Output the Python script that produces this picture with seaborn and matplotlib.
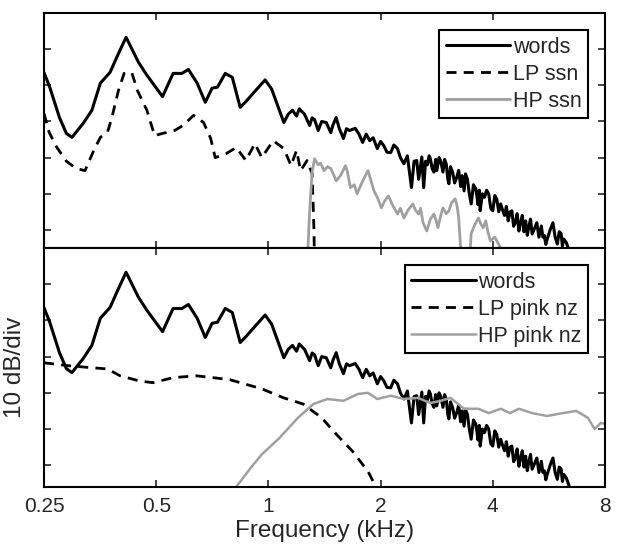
import numpy as np
import pandas as pd
import seaborn as sns
import matplotlib
matplotlib.use("Agg")
import matplotlib.pyplot as plt

# spectra (frequency in kHz, level in dB, 10 dB per division)
words_f = [0.25, 0.259, 0.275, 0.287, 0.297, 0.318, 0.336, 0.354, 0.376, 0.392,
           0.415, 0.448, 0.472, 0.52, 0.555, 0.586, 0.61, 0.644, 0.677, 0.706,
           0.73, 0.766, 0.80, 0.84, 0.87, 0.91, 0.98, 1.02, 1.10, 1.13,
           1.16, 1.19, 1.21, 1.25, 1.29, 1.31, 1.33, 1.36, 1.39, 1.43,
           1.47, 1.49, 1.52, 1.55, 1.59, 1.62, 1.65, 1.71, 1.75, 1.79,
           1.83, 1.87, 1.91, 1.96, 2.0, 2.04, 2.08, 2.13, 2.17, 2.22,
           2.26, 2.31, 2.36, 2.42, 2.46, 2.50, 2.53, 2.55, 2.58, 2.61,
           2.64, 2.67, 2.70, 2.72, 2.75, 2.78, 2.81, 2.83, 2.87, 2.90,
           2.94, 2.97, 3.0, 3.03, 3.05, 3.08, 3.12, 3.16, 3.2, 3.24,
           3.28, 3.31, 3.35, 3.38, 3.42, 3.46, 3.5, 3.55, 3.6, 3.63,
           3.65, 3.68, 3.7, 3.75, 3.8, 3.85, 3.9, 3.95, 4.0, 4.05,
           4.1, 4.15, 4.2, 4.25, 4.3, 4.35, 4.4, 4.45, 4.5, 4.55,
           4.6, 4.65, 4.7, 4.75, 4.8, 4.85, 4.9, 4.95, 5.0, 5.05,
           5.1, 5.18, 5.25, 5.32, 5.4, 5.45, 5.5, 5.55, 5.6, 5.7,
           5.8, 5.88, 5.96, 6.03, 6.1, 6.15, 6.2, 6.3, 6.4, 6.5]
words_db = [-16.5, -20.5, -28.9, -33.3, -34.4, -30.6, -26.9, -19.4, -16.4, -12.2,
            -6.7, -13.6, -17.2, -23.1, -16.7, -16.7, -15.6, -19.4, -24.7, -20.8,
            -20.5, -16.7, -17.8, -26.1, -24.5, -22.2, -18.5, -21.0, -30.3, -28.0,
            -26.9, -28.5, -26.5, -28.0, -31.1, -29.0, -29.5, -32.5, -30.0, -30.3,
            -33.1, -31.0, -28.9, -32.0, -34.7, -32.0, -32.5, -31.9, -33.5, -35.8,
            -33.5, -35.3, -34.5, -37.5, -35.5, -36.7, -38.5, -38.6, -36.5, -37.5,
            -40.0, -41.7, -39.5, -48.3, -41.0, -40.8, -46.0, -43.5, -39.8, -48.3,
            -41.0, -42.0, -39.5, -40.3, -43.0, -44.0, -40.5, -43.6, -40.0, -41.0,
            -44.0, -40.5, -41.7, -46.0, -47.2, -42.5, -44.0, -47.0, -45.5, -43.5,
            -48.0, -45.0, -49.2, -44.5, -46.0, -50.0, -52.8, -47.5, -48.6, -51.0,
            -53.0, -49.0, -54.7, -50.0, -51.0, -49.0, -50.0, -54.0, -54.7, -50.5,
            -51.5, -55.0, -52.8, -54.5, -56.0, -53.5, -57.5, -55.0, -54.7, -59.0,
            -58.0, -55.5, -60.3, -58.0, -56.0, -60.5, -57.5, -61.5, -59.0, -57.0,
            -61.1, -59.5, -58.0, -62.0, -58.9, -62.0, -61.5, -64.0, -62.5, -60.0,
            -58.0, -62.0, -63.9, -60.5, -61.0, -64.5, -62.5, -63.5, -65.5, -68.0]

lp_ssn_f = [0.25, 0.258, 0.27, 0.287, 0.305, 0.322, 0.34, 0.354, 0.37, 0.38,
            0.396, 0.41, 0.43, 0.445, 0.472, 0.495, 0.52, 0.56, 0.59, 0.63,
            0.67, 0.70, 0.72, 0.77, 0.82, 0.87, 0.92, 0.96, 1.03, 1.10,
            1.15, 1.19, 1.22, 1.27, 1.31, 1.325, 1.33]
lp_ssn_db = [-27.8, -33.0, -37.0, -41.0, -43.0, -43.6, -38.0, -34.4, -33.0, -29.0,
             -21.4, -16.7, -16.5, -21.4, -26.9, -33.9, -33.3, -32.5, -31.1, -28.3,
             -30.3, -34.7, -40.0, -38.9, -37.2, -40.8, -36.1, -40.0, -35.3, -37.5,
             -42.2, -38.0, -43.6, -40.8, -44.4, -60.0, -70.0]

hp_ssn_f = [1.27, 1.29, 1.31, 1.33, 1.36, 1.38, 1.41, 1.44, 1.47, 1.50,
            1.52, 1.56, 1.61, 1.63, 1.66, 1.70, 1.73, 1.78, 1.82, 1.85,
            1.88, 1.92, 1.96, 2.01, 2.05, 2.10, 2.15, 2.22, 2.26, 2.31,
            2.37, 2.44, 2.48, 2.53, 2.56, 2.60, 2.66, 2.72, 2.78, 2.82,
            2.85, 2.90, 2.94, 3.0, 3.05, 3.1, 3.17, 3.21, 3.24, 3.28,
            3.30, 3.45, 3.5, 3.58, 3.66, 3.72, 3.77, 3.83, 3.88, 3.94,
            4.05, 4.25]
hp_ssn_db = [-70.0, -55.0, -44.0, -40.3, -42.0, -41.5, -43.6, -42.5, -43.0, -45.0,
             -46.4, -45.0, -42.2, -44.0, -48.3, -47.5, -50.0, -47.0, -45.0, -43.6,
             -46.0, -49.2, -51.0, -53.9, -52.0, -50.6, -53.0, -55.6, -54.0, -56.7,
             -54.5, -52.8, -54.5, -55.6, -54.0, -58.0, -60.3, -57.0, -55.6, -57.5,
             -59.4, -56.0, -53.9, -55.5, -54.7, -52.5, -51.4, -53.5, -56.7, -65.0,
             -72.0, -72.0, -61.0, -58.5, -56.7, -58.5, -59.4, -57.5, -60.5, -63.0,
             -62.0, -66.0]

lp_pink_f = [0.25, 0.29, 0.33, 0.37, 0.40, 0.45, 0.49, 0.555, 0.64, 0.71,
             0.79, 0.96, 1.10, 1.24, 1.39, 1.52, 1.68, 1.85, 1.96, 2.05]
lp_pink_db = [-31.7, -32.5, -33.0, -33.4, -35.3, -36.7, -37.2, -35.8, -35.3, -35.8,
              -36.4, -38.9, -41.4, -43.1, -46.9, -51.4, -56.1, -61.7, -66.7, -70.0]

hp_pink_f = [0.78, 0.81, 0.895, 0.96, 1.07, 1.20, 1.32, 1.44, 1.59, 1.74,
             1.85, 1.96, 2.13, 2.31, 2.52, 2.72, 2.9, 3.08, 3.35, 3.66,
             3.9, 4.2, 4.45, 4.7, 5.1, 5.6, 6.0, 6.7, 7.2, 7.5,
             7.8, 8.0]
hp_pink_db = [-70.0, -66.7, -60.8, -57.0, -52.5, -46.9, -43.1, -41.7, -42.2, -40.3,
              -40.0, -41.7, -40.8, -41.7, -41.4, -42.8, -42.2, -41.4, -44.4, -44.4,
              -45.6, -44.4, -45.6, -44.4, -45.6, -46.4, -45.8, -45.0, -46.9, -50.0,
              -48.3, -48.6]

xticks = [0.25, 0.5, 1, 2, 4, 8]
xtick_labels = ["0.25", "0.5", "1", "2", "4", "8"]

sns.set_style("ticks")
plt.rcParams['font.family'] = ['Liberation Sans', 'DejaVu Sans']

fig = plt.figure(figsize=(6.21, 5.52), dpi=100)
ax1 = fig.add_axes([0.0709, 0.5507, 0.9033, 0.4257])
ax2 = fig.add_axes([0.0709, 0.1178, 0.9033, 0.4329])

gray = "#a0a0a0"
dash = (0, (3.6, 2.6))

sns.lineplot(x=words_f, y=words_db, ax=ax1, color="black", lw=2.2, sort=False,
             estimator=None, label="words")
sns.lineplot(x=lp_ssn_f, y=lp_ssn_db, ax=ax1, color="black", lw=2.0, sort=False,
             estimator=None, label="LP ssn", linestyle=dash)
sns.lineplot(x=hp_ssn_f, y=hp_ssn_db, ax=ax1, color=gray, lw=2.0, sort=False,
             estimator=None, label="HP ssn")

sns.lineplot(x=words_f, y=words_db, ax=ax2, color="black", lw=2.2, sort=False,
             estimator=None, label="words")
sns.lineplot(x=lp_pink_f, y=lp_pink_db, ax=ax2, color="black", lw=2.0, sort=False,
             estimator=None, label="LP pink nz", linestyle=dash)
sns.lineplot(x=hp_pink_f, y=hp_pink_db, ax=ax2, color=gray, lw=1.8, sort=False,
             estimator=None, label="HP pink nz")

for ax, ylo in [(ax1, -65), (ax2, -66)]:
    ax.set_xscale("log")
    ax.set_xlim(0.25, 8)
    ax.set_ylim(ylo, 0)
    ax.set_xticks(xticks)
    ax.set_xticklabels(xtick_labels)
    ax.minorticks_off()
    ax.set_yticks([-60, -50, -40, -30, -20, -10])
    ax.set_yticklabels([])
    ax.tick_params(direction="in", top=True, right=True, length=5, width=1.2,
                   labelsize=15, pad=7)
    for sp in ax.spines.values():
        sp.set_visible(True)
        sp.set_linewidth(1.5)
        sp.set_color("black")
    ax.set_ylabel("")
    leg = ax.legend(loc="upper right", fontsize=15.5, frameon=True, fancybox=False,
                    edgecolor="black", handlelength=3.0, handletextpad=0.1,
                    labelspacing=0.28, borderpad=0.3, borderaxespad=0.8)
    leg.get_frame().set_linewidth(1.5)
    leg.get_frame().set_alpha(1)

ax1.set_xticklabels([])
ax2.set_xlabel("Frequency (kHz)", fontsize=17.5, labelpad=3)
ax2.set_ylabel("10 dB/div", fontsize=17.5, labelpad=6)

fig.savefig("out.png", dpi=100)
